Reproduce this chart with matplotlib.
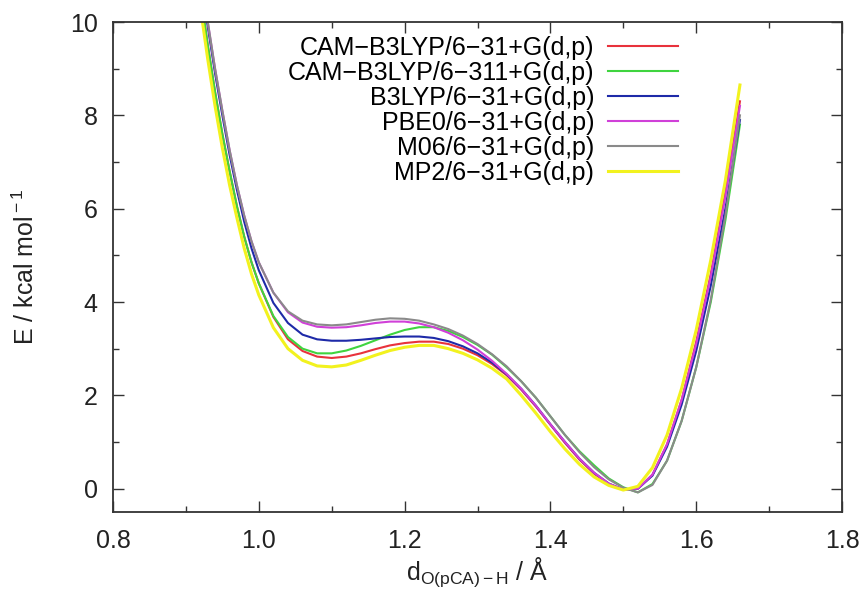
import numpy as np
import matplotlib
matplotlib.use("Agg")
import matplotlib.pyplot as plt
from matplotlib.ticker import MultipleLocator

plt.rcParams['font.family'] = ['Liberation Sans', 'DejaVu Sans']
plt.rcParams['mathtext.fontset'] = 'custom'
plt.rcParams['mathtext.rm'] = 'Liberation Sans'
plt.rcParams['mathtext.it'] = 'Liberation Sans:italic'

# distancia O(pCA)-H en Angstrom
d_OH = [0.92, 0.93, 0.94, 0.95, 0.96, 0.97, 0.98, 0.99, 1.00, 1.02, 1.04, 1.06,
        1.08, 1.10, 1.12, 1.14, 1.16, 1.18, 1.20, 1.22, 1.24, 1.26, 1.28, 1.30,
        1.32, 1.34, 1.36, 1.38, 1.40, 1.42, 1.44, 1.46, 1.48, 1.50, 1.52, 1.54,
        1.56, 1.58, 1.60, 1.62, 1.64, 1.66]

# energias en kcal/mol
E_cam_631 = [10.6, 9.5, 8.5, 7.6, 6.8, 6.05, 5.4, 4.85, 4.4, 3.68, 3.2, 2.95,
             2.83, 2.8, 2.83, 2.9, 2.99, 3.07, 3.12, 3.15, 3.15, 3.1, 3.0, 2.86,
             2.67, 2.43, 2.12, 1.76, 1.37, 0.98, 0.62, 0.32, 0.1, -0.02, 0.0, 0.3,
             0.95, 1.9, 3.15, 4.6, 6.35, 8.3]
E_cam_6311 = [10.6, 9.5, 8.5, 7.6, 6.8, 6.05, 5.4, 4.85, 4.4, 3.7, 3.25, 3.0,
              2.9, 2.9, 2.96, 3.06, 3.18, 3.3, 3.4, 3.46, 3.46, 3.38, 3.25, 3.08,
              2.87, 2.6, 2.3, 1.95, 1.55, 1.15, 0.8, 0.5, 0.22, 0.03, -0.08, 0.1,
              0.6, 1.45, 2.6, 4.0, 5.75, 7.8]
E_b3lyp = [10.9, 9.9, 8.9, 8.0, 7.15, 6.4, 5.72, 5.15, 4.68, 3.98, 3.55, 3.3,
           3.2, 3.17, 3.17, 3.19, 3.22, 3.25, 3.26, 3.26, 3.23, 3.16, 3.05, 2.9,
           2.7, 2.45, 2.14, 1.78, 1.38, 1.0, 0.64, 0.34, 0.11, -0.02, 0.0, 0.28,
           0.9, 1.8, 2.95, 4.35, 6.0, 7.9]
E_pbe0 = [11.0, 10.0, 9.0, 8.1, 7.25, 6.5, 5.85, 5.3, 4.85, 4.2, 3.78, 3.56,
          3.47, 3.45, 3.46, 3.5, 3.55, 3.58, 3.58, 3.54, 3.46, 3.34, 3.18, 2.98,
          2.74, 2.46, 2.14, 1.78, 1.38, 1.0, 0.64, 0.34, 0.11, -0.02, 0.0, 0.3,
          0.95, 1.9, 3.1, 4.55, 6.25, 8.2]
E_m06 = [11.0, 10.0, 9.0, 8.1, 7.25, 6.5, 5.85, 5.3, 4.85, 4.2, 3.8, 3.6,
         3.52, 3.5, 3.52, 3.57, 3.62, 3.65, 3.64, 3.6, 3.52, 3.42, 3.28, 3.1,
         2.88, 2.62, 2.3, 1.95, 1.55, 1.15, 0.78, 0.46, 0.2, 0.02, -0.08, 0.08,
         0.6, 1.45, 2.6, 4.05, 5.85, 8.0]
E_mp2 = [10.3, 9.2, 8.2, 7.3, 6.5, 5.8, 5.15, 4.6, 4.15, 3.45, 3.0, 2.75,
         2.63, 2.61, 2.65, 2.75, 2.86, 2.96, 3.03, 3.07, 3.07, 3.0, 2.9, 2.76,
         2.58, 2.35, 2.0, 1.62, 1.22, 0.85, 0.52, 0.25, 0.07, -0.03, 0.05, 0.45,
         1.15, 2.15, 3.4, 4.9, 6.6, 8.65]

etiquetas = ['CAM\u2212B3LYP/6\u221231+G(d,p)', 'CAM\u2212B3LYP/6\u2212311+G(d,p)',
             'B3LYP/6\u221231+G(d,p)', 'PBE0/6\u221231+G(d,p)',
             'M06/6\u221231+G(d,p)', 'MP2/6\u221231+G(d,p)']
series = [E_cam_631, E_cam_6311, E_b3lyp, E_pbe0, E_m06, E_mp2]
colores = ['#e8323c', '#3fd43f', '#1e2aa8', '#d040d8', '#8a8a8a', '#f2f21e']
anchos = [1.5, 1.5, 1.5, 1.5, 1.5, 2.2]

fs = 18

fig = plt.figure(figsize=(8.62, 5.90), dpi=100)
ax = fig.add_axes([113/862, 1-512/590, (842-113)/862, (512-22)/590])

for E, lab, c, lw in zip(series, etiquetas, colores, anchos):
    ax.plot(d_OH, E, color=c, lw=lw, label=lab)

ax.set_xlim(0.8, 1.8)
ax.set_ylim(-0.5, 10)
ax.xaxis.set_major_locator(MultipleLocator(0.2))
ax.xaxis.set_minor_locator(MultipleLocator(0.1))
ax.yaxis.set_major_locator(MultipleLocator(2))
ax.yaxis.set_minor_locator(MultipleLocator(1))
ax.xaxis.set_major_formatter(plt.FormatStrFormatter('%.1f'))
ax.tick_params(which='both', direction='in', top=True, right=True,
               labelsize=fs, colors='#333333', labelcolor='#222222')
ax.tick_params(which='major', length=8, width=1.0)
ax.tick_params(which='minor', length=4, width=1.0)
ax.tick_params(axis='x', which='major', pad=12)
ax.tick_params(axis='y', which='major', pad=11)
for s in ax.spines.values():
    s.set_linewidth(1.3)
    s.set_color('#333333')

ax.set_xlabel(r'd$_{\rm O(pCA)-H}$ / Å', fontsize=fs, color='#222222')
ax.set_ylabel(r'E / kcal mol$^{\rm -1}$', fontsize=fs, color='#222222')
ax.xaxis.set_label_coords(0.5, -0.088)
ax.yaxis.set_label_coords(-0.102, 0.5)

ax.legend(loc='upper right', bbox_to_anchor=(0.775, 0.972), frameon=False,
          markerfirst=False, fontsize=fs, handlelength=2.8, handletextpad=0.55,
          labelspacing=0.04, borderpad=0, borderaxespad=0)

fig.savefig('out.png', dpi=100)
